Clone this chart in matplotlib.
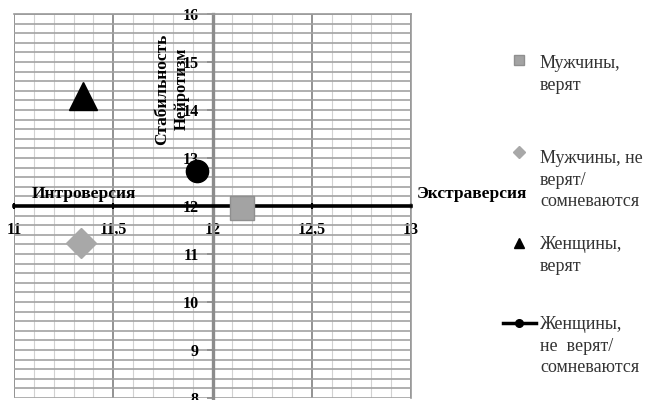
import matplotlib
matplotlib.use('Agg')
import matplotlib.pyplot as plt
from matplotlib.lines import Line2D
from matplotlib.ticker import MultipleLocator, FuncFormatter

# Data
series_labels = ['Мужчины,\nверят',
                 'Мужчины, не\nверят/\nсомневаются',
                 'Женщины,\nверят',
                 'Женщины,\nне  верят/\nсомневаются']
x_vals = [12.15, 11.34, 11.35, 11.92]   # экстраверсия
y_vals = [11.96, 11.23, 14.30, 12.73]   # нейротизм
x_ticks = [11, 11.5, 12, 12.5, 13]
y_ticks = [8, 9, 10, 11, 12, 13, 14, 15, 16]

# Styles per series
markers = ['s', 'D', '^', 'o']
face = ['#a3a3a3', '#a8a8a8', '#000000', '#000000']
edge = ['#8f8f8f', '#a8a8a8', '#000000', '#000000']
sizes = [17, 15, 20, 16]

serif = ['Liberation Serif', 'DejaVu Serif']
plt.rcParams['font.family'] = serif

fig = plt.figure(figsize=(6.46, 4.0), dpi=100, facecolor='white')
ax = fig.add_axes([14 / 646, 2 / 400, 397 / 646, 384 / 400])
ax.set_xlim(11, 13)
ax.set_ylim(8, 16)

# grid
ax.xaxis.set_major_locator(MultipleLocator(0.5))
ax.xaxis.set_minor_locator(MultipleLocator(0.1))
ax.yaxis.set_major_locator(MultipleLocator(1))
ax.yaxis.set_minor_locator(MultipleLocator(0.2))
ax.grid(which='major', axis='x', color='#8a8a8a', linewidth=1.3)
ax.grid(which='minor', axis='x', color='#d2d2d2', linewidth=0.8)
ax.grid(which='both', axis='y', color='#a2a2a2', linewidth=1.2)
ax.set_axisbelow(True)

# axes crossing at (12, 12)
for side in ['top', 'right']:
    ax.spines[side].set_color('#9a9a9a')
    ax.spines[side].set_linewidth(1.2)
ax.spines['bottom'].set_position(('data', 12))
ax.spines['bottom'].set_color('black')
ax.spines['bottom'].set_linewidth(2.6)
ax.spines['left'].set_position(('data', 12))
ax.spines['left'].set_color('#8c8c8c')
ax.spines['left'].set_linewidth(2.4)
ax.spines['bottom'].set_zorder(3)
ax.spines['left'].set_zorder(2)

ax.set_xticks(x_ticks)
ax.set_yticks(y_ticks)
ax.xaxis.set_major_formatter(FuncFormatter(lambda v, p: f'{v:g}'.replace('.', ',')))
ax.tick_params(axis='x', which='major', direction='inout', length=5, width=1.5,
               color='black', pad=9, labelsize=11.5)
ax.tick_params(axis='y', which='major', direction='out', length=4, width=1.2,
               color='#8c8c8c', pad=6, labelsize=11.5)
ax.tick_params(which='minor', length=0)
for lab in ax.get_xticklabels() + ax.get_yticklabels():
    lab.set_fontweight('bold')

# points
for i in range(len(x_vals)):
    ax.plot(x_vals[i], y_vals[i], marker=markers[i], markersize=sizes[i],
            markerfacecolor=face[i], markeredgecolor=edge[i], markeredgewidth=1,
            linestyle='none', zorder=5, clip_on=False)

# axis captions
ax.text(11.09, 12.25, 'Интроверсия', fontsize=12.5, fontweight='bold', va='center', ha='left')
ax.text(13.03, 12.25, 'Экстраверсия', fontsize=12.5, fontweight='bold', va='center', ha='left')
ax.text(11.744, 14.42, 'Стабильность', fontsize=12.5, fontweight='bold', rotation=90,
        ha='center', va='center')
ax.text(11.844, 14.44, 'Нейротизм', fontsize=12, fontweight='bold', rotation=90,
        ha='center', va='center')

# legend (drawn by hand so keys line up with first text line)
leg_key_y = [60, 152, 243, 323]
leg_text_y = [62, 157, 243, 323]
key_x = 519
for i in range(len(series_labels)):
    yk = 1 - leg_key_y[i] / 400
    if i == 3:
        fig.add_artist(Line2D([503 / 646, 536 / 646], [yk, yk], color='black', linewidth=2.5,
                              transform=fig.transFigure))
        fig.add_artist(Line2D([key_x / 646], [yk], marker='o', markersize=5.5, color='black',
                              transform=fig.transFigure))
    else:
        fig.add_artist(Line2D([key_x / 646], [yk], marker=markers[i], markersize=[7, 6, 7][i],
                              markerfacecolor=face[i], markeredgecolor=edge[i],
                              transform=fig.transFigure))
    fig.text(540 / 646, 1 - (leg_text_y[i] - 7) / 400, series_labels[i], fontsize=13,
             color='#333333', va='top', ha='left', linespacing=1.36)

fig.savefig('out.png', dpi=100, facecolor='white')
